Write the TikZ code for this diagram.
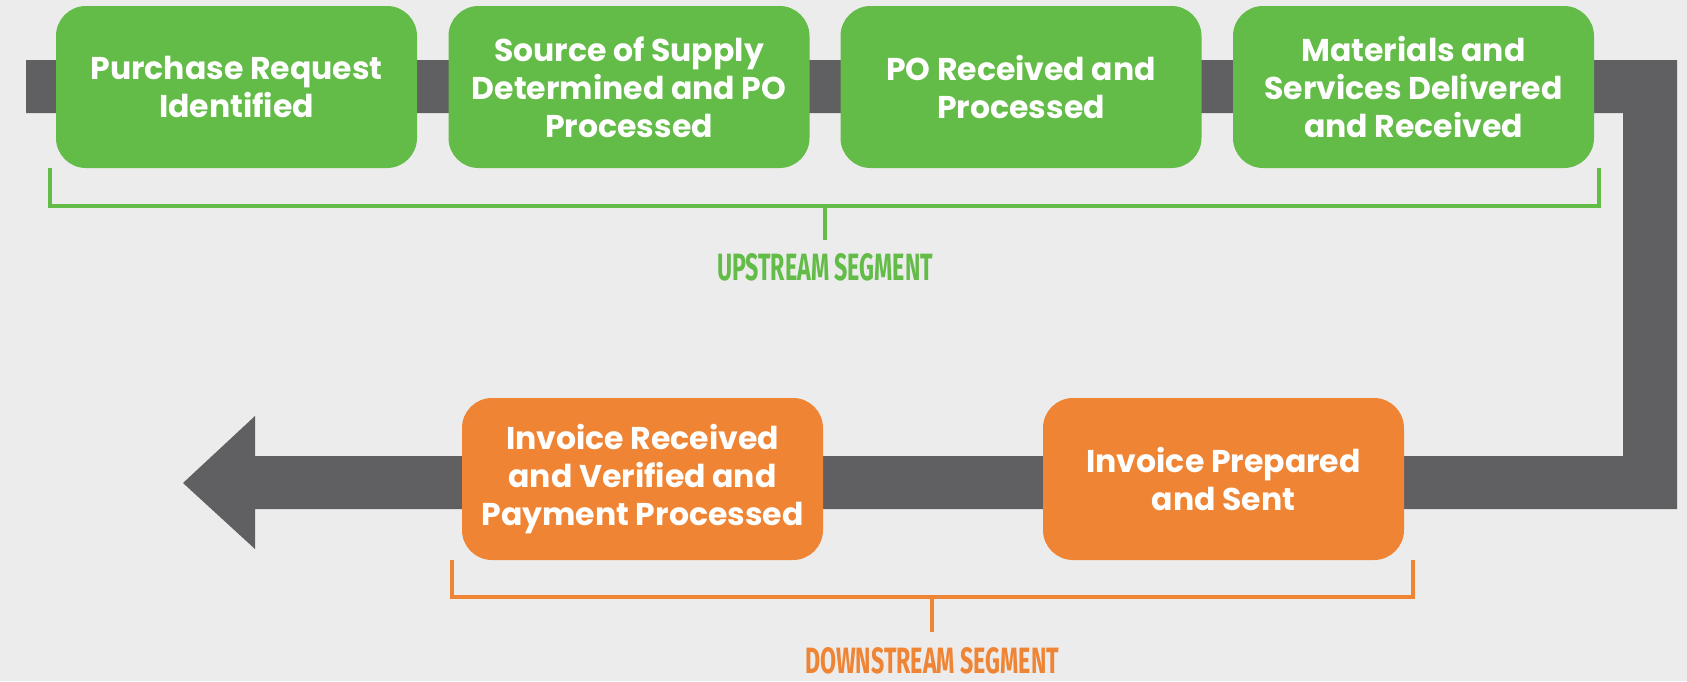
\documentclass[tikz,border=0pt]{standalone}
\usepackage{fontspec}
\usepackage{graphicx}
\setmainfont{Poppins}
\newfontfamily\labfont{Fira Sans}
\definecolor{bg}{RGB}{236,236,236}
\definecolor{grn}{RGB}{99,187,72}
\definecolor{org}{RGB}{239,133,52}
\definecolor{band}{RGB}{96,96,98}
\tikzset{
  procbox/.style={rounded corners=30pt, minimum width=361pt, minimum height=162pt,
    inner sep=0pt, align=center, text=white, font=\fontsize{31.5}{38}\selectfont\bfseries},
  gbox/.style={procbox, fill=grn},
  obox/.style={procbox, fill=org},
  brk/.style={line width=4pt},
  seglabel/.style={inner sep=0pt, anchor=north, font=\labfont\bfseries}
}
\begin{document}
\begin{tikzpicture}[x=1pt,y=-1pt]
\fill[bg] (0,0) rectangle (1687,681);
\useasboundingbox (0,0) rectangle (1687,681);
% flow band with arrow
\fill[band] (26,60) -- (1677,60) -- (1677,509) -- (255,509) -- (255,549) -- (183,483)
  -- (255,416) -- (255,456) -- (1623,456) -- (1623,113) -- (26,113) -- cycle;
% upstream boxes
\node[gbox] (b1) at (236.5,87) {Purchase Request\\Identified};
\node[gbox] (b2) at (629,87) {Source of Supply\\Determined and PO\\Processed};
\node[gbox] (b3) at (1021,87) {PO Received and\\Processed};
\node[gbox] (b4) at (1413.5,87) {Materials and\\Services Delivered\\and Received};
% downstream boxes
\node[obox] (o1) at (642.5,479) {Invoice Received\\and Verified and\\Payment Processed};
\node[obox] (o2) at (1223.5,479) {Invoice Prepared\\and Sent};
% labels
\node[seglabel, text=grn] (up) at (825,253) {\resizebox{216pt}{27pt}{UPSTREAM SEGMENT}};
\node[seglabel, text=org] (down) at (932,647) {\resizebox{254pt}{26pt}{DOWNSTREAM SEGMENT}};
% brackets
\coordinate (ul) at (50,168);
\coordinate (ur) at (1599,168);
\coordinate (um) at (825,206);
\draw[brk, grn] (ul) -- (50,206) -- (1599,206) -- (ur);
\draw[brk, grn] (um) -- ([yshift=13pt]up.north);
\coordinate (dl) at (452,560);
\coordinate (dr) at (1413,560);
\coordinate (dm) at (932,597);
\draw[brk, org] (dl) -- (452,597) -- (1413,597) -- (dr);
\draw[brk, org] (dm) -- ([yshift=15pt]down.north);
\end{tikzpicture}
\end{document}
